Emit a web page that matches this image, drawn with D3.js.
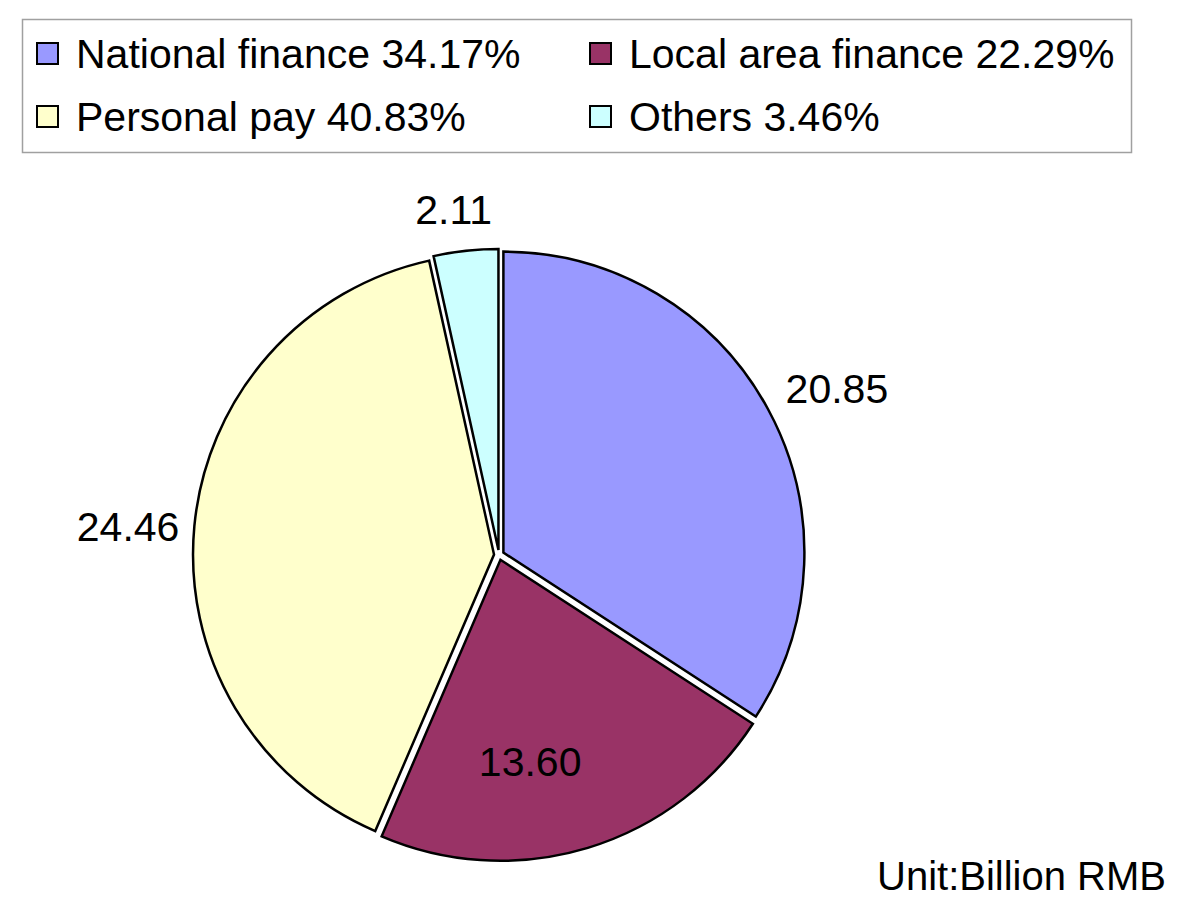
<!DOCTYPE html>
<html>
<head>
<meta charset="utf-8">
<script src="https://cdn.jsdelivr.net/npm/d3@7"></script>
<style>
  html, body { margin: 0; padding: 0; background: #fff; }
  svg { display: block; font-family: "Liberation Sans", Arial, sans-serif; }
</style>
</head>
<body>
<div id="chart"></div>
<script>
const width = 1200
const height = 913

// data
const categories = ['National finance', 'Local area finance', 'Personal pay', 'Others']
const values = [20.85, 13.60, 24.46, 2.11]
const shares = ['34.17%', '22.29%', '40.83%', '3.46%']
const colors = ['#9999ff', '#993366', '#ffffcc', '#ccffff']
const unitLabel = 'Unit:Billion RMB'

const cx = 499
const cy = 555
const radius = 301
const explode = 5

const svg = d3
  .select('#chart')
  .append('svg')
  .attr('width', width)
  .attr('height', height)
  .attr('viewBox', [0, 0, width, height])

// legend
const legend = svg.append('g').attr('class', 'legend')
legend
  .append('rect')
  .attr('x', 22.5)
  .attr('y', 19.5)
  .attr('width', 1109)
  .attr('height', 133)
  .attr('fill', '#fff')
  .attr('stroke', '#a0a0a0')
  .attr('stroke-width', 1.5)

// legend order: row-wise, two columns
const legendCol = d3.scaleOrdinal().domain([0, 1]).range([37, 590])
const legendRow = d3.scaleOrdinal().domain([0, 1]).range([54, 117])

const items = legend
  .selectAll('g.item')
  .data(categories)
  .join('g')
  .attr('class', 'item')
  .attr('transform', (d, i) => `translate(${legendCol(i % 2)},${legendRow(Math.floor(i / 2))})`)

items
  .append('rect')
  .attr('x', 0)
  .attr('y', -11)
  .attr('width', 21)
  .attr('height', 21)
  .attr('fill', (d, i) => colors[i])
  .attr('stroke', '#000')
  .attr('stroke-width', 2)

items
  .append('text')
  .attr('x', 39)
  .attr('y', 14)
  .attr('font-size', 41)
  .attr('fill', '#000')
  .text((d, i) => `${d} ${shares[i]}`)

// pie
const pie = d3.pie().sort(null).value(d => d)
const arcs = pie(values)
const arc = d3.arc().innerRadius(0).outerRadius(radius)

const g = svg.append('g').attr('transform', `translate(${cx},${cy})`)

const mid = d => (d.startAngle + d.endAngle) / 2

g.selectAll('path')
  .data(arcs)
  .join('path')
  .attr('d', arc)
  .attr('transform', d => `translate(${Math.sin(mid(d)) * explode},${-Math.cos(mid(d)) * explode})`)
  .attr('fill', (d, i) => colors[i])
  .attr('stroke', '#000')
  .attr('stroke-width', 2.5)
  .attr('stroke-linejoin', 'miter')

// data labels: dark slice gets an inside label, the rest sit outside
g.selectAll('text.value')
  .data(arcs)
  .join('text')
  .attr('class', 'value')
  .attr('font-size', 41)
  .attr('fill', '#000')
  .attr('dominant-baseline', 'central')
  .each(function (d, i) {
    const a = mid(d)
    const s = Math.sin(a)
    const c = Math.cos(a)
    const t = d3.select(this).text(values[i].toFixed(2))
    if (i === 1) {
      const r = radius * 0.7
      t.attr('x', s * r - 30).attr('y', -c * r + 5).attr('text-anchor', 'middle')
      return
    }
    const r = radius + 16
    const x = s * r
    const y = -c * r
    if (Math.abs(s) < 0.2) {
      // near the top: centred above the slice
      t.attr('x', x - 11).attr('y', y - 30).attr('text-anchor', 'middle')
    } else if (s > 0) {
      t.attr('x', x + 8).attr('y', y - c * 30).attr('text-anchor', 'start')
    } else {
      t.attr('x', x - 4).attr('y', y + 2).attr('text-anchor', 'end')
    }
  })

svg
  .append('text')
  .attr('x', 1166)
  .attr('y', 890)
  .attr('text-anchor', 'end')
  .attr('font-size', 40)
  .attr('fill', '#000')
  .text(unitLabel)
</script>
</body>
</html>
